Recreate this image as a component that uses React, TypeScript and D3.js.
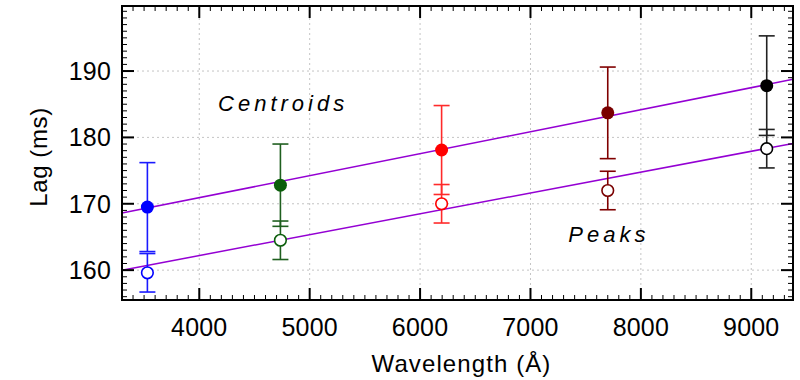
import * as d3 from "d3";

// filter wavelengths (Å) and marker colours
const wavelengths = [3530, 4735, 6195, 7700, 9140];
const bandColors = ["#0000ff", "#0b5e0b", "#ff0000", "#7a0000", "#000000"];
const errColors = ["#1a1aff", "#1f5f1f", "#ff2a2a", "#800000", "#222222"];

// lags (ms) with symmetric errors
const centroidLag = [169.5, 172.8, 178.1, 183.7, 187.8];
const centroidErr = [6.7, 6.2, 6.7, 6.9, 7.5];
const peakLag = [159.6, 164.5, 170.0, 172.0, 178.3];
const peakErr = [2.9, 2.9, 2.9, 2.9, 2.9];

// linear fits: lag = a + b * wavelength
const centroidFit = [157.66, 0.003315];
const peakFit = [149.63, 0.003142];

const xTicks = [4000, 5000, 6000, 7000, 8000, 9000];
const yTicks = [160, 170, 180, 190];

const W = 800, H = 380;
const m = { top: 6, right: 7, bottom: 80, left: 122 };
const font = "'Liberation Sans', Arial, Helvetica, sans-serif";

export default function App() {
  const x = d3.scaleLinear().domain([3300, 9378]).range([m.left, W - m.right]);
  const y = d3.scaleLinear().domain([155.5, 199.8]).range([H - m.bottom, m.top]);
  const [x0, x1] = x.range();
  const [y0, y1] = y.range(); // y0 bottom, y1 top

  const xMinor = d3.range(3300, 9400, 100).filter(v => v % 1000 !== 0);
  const yMinor = d3.range(156, 200, 1).filter(v => v % 10 !== 0);

  const fitLine = (fit: number[]) => {
    const line = d3.line<number>().x(d => x(d)).y(d => y(fit[0] + fit[1] * d));
    return line(x.domain()) as string;
  };

  const capW = 8;
  const points = wavelengths.map((w, i) => ({ w, i }));

  return (
    <svg width={W} height={H} style={{ position: "absolute", left: 0, top: 0, fontFamily: font }}>
      <rect width={W} height={H} fill="#fff" />
      {/* grid */}
      <g stroke="#c4c4c4" strokeWidth={1} strokeDasharray="2,3">
        {xTicks.map(t => <line key={"gx" + t} x1={x(t)} x2={x(t)} y1={y0} y2={y1} />)}
        {yTicks.map(t => <line key={"gy" + t} x1={x0} x2={x1} y1={y(t)} y2={y(t)} />)}
      </g>

      {/* fit lines */}
      <g fill="none" stroke="#9400d3" strokeWidth={1.5}>
        <path d={fitLine(centroidFit)} />
        <path d={fitLine(peakFit)} />
      </g>

      {/* error bars */}
      {points.map(({ w, i }) => (
        <g key={"e" + i} stroke={errColors[i]} strokeWidth={1.6}>
          {[[centroidLag[i], centroidErr[i]], [peakLag[i], peakErr[i]]].map(([v, e], k) => (
            <g key={k}>
              <line x1={x(w)} x2={x(w)} y1={y(v - e)} y2={y(v + e)} />
              <line x1={x(w) - capW} x2={x(w) + capW} y1={y(v - e)} y2={y(v - e)} />
              <line x1={x(w) - capW} x2={x(w) + capW} y1={y(v + e)} y2={y(v + e)} />
            </g>
          ))}
        </g>
      ))}

      {/* markers */}
      {points.map(({ w, i }) => (
        <g key={"m" + i}>
          <circle cx={x(w)} cy={y(peakLag[i])} r={5.8} fill="#fff" stroke={bandColors[i]} strokeWidth={1.6} />
          <circle cx={x(w)} cy={y(centroidLag[i])} r={6.5} fill={bandColors[i]} />
        </g>
      ))}

      {/* annotations */}
      <g fontSize={22} fontStyle="italic" letterSpacing={4} fill="#000">
        <text x={x(4170)} y={y(184)}>Centroids</text>
        <text x={x(7343)} y={y(164.3)}>Peaks</text>
      </g>

      {/* ticks on all sides */}
      <g stroke="#000" strokeWidth={1}>
        {xTicks.map(t => (
          <g key={"xt" + t} strokeWidth={2}>
            <line x1={x(t)} x2={x(t)} y1={y0} y2={y0 - 12} />
            <line x1={x(t)} x2={x(t)} y1={y1} y2={y1 + 12} />
          </g>
        ))}
        {xMinor.map(t => (
          <g key={"xm" + t}>
            <line x1={x(t)} x2={x(t)} y1={y0} y2={y0 - 5} />
            <line x1={x(t)} x2={x(t)} y1={y1} y2={y1 + 5} />
          </g>
        ))}
        {yTicks.map(t => (
          <g key={"yt" + t} strokeWidth={2}>
            <line x1={x0} x2={x0 + 12} y1={y(t)} y2={y(t)} />
            <line x1={x1} x2={x1 - 12} y1={y(t)} y2={y(t)} />
          </g>
        ))}
        {yMinor.map(t => (
          <g key={"ym" + t}>
            <line x1={x0} x2={x0 + 5} y1={y(t)} y2={y(t)} />
            <line x1={x1} x2={x1 - 5} y1={y(t)} y2={y(t)} />
          </g>
        ))}
      </g>

      {/* frame */}
      <rect x={x0} y={y1} width={x1 - x0} height={y0 - y1} fill="none" stroke="#000" strokeWidth={2} />

      {/* tick labels */}
      <g fontSize={25} fill="#000" letterSpacing={0.2}>
        {xTicks.map(t => (
          <text key={"xl" + t} x={x(t)} y={y0 + 36} textAnchor="middle">{t}</text>
        ))}
        {yTicks.map(t => (
          <text key={"yl" + t} x={x0 - 11} y={y(t)} dy="0.36em" textAnchor="end">{t}</text>
        ))}
      </g>

      {/* axis titles */}
      <text x={(x0 + x1) / 2 + 4} y={H - 8} fontSize={24} letterSpacing={1.1} textAnchor="middle">
        Wavelength (Å)
      </text>
      <text transform={`translate(47,${(y0 + y1) / 2 + 4}) rotate(-90)`} fontSize={24} letterSpacing={0.6}
        textAnchor="middle">
        Lag (ms)
      </text>
    </svg>
  );
}
